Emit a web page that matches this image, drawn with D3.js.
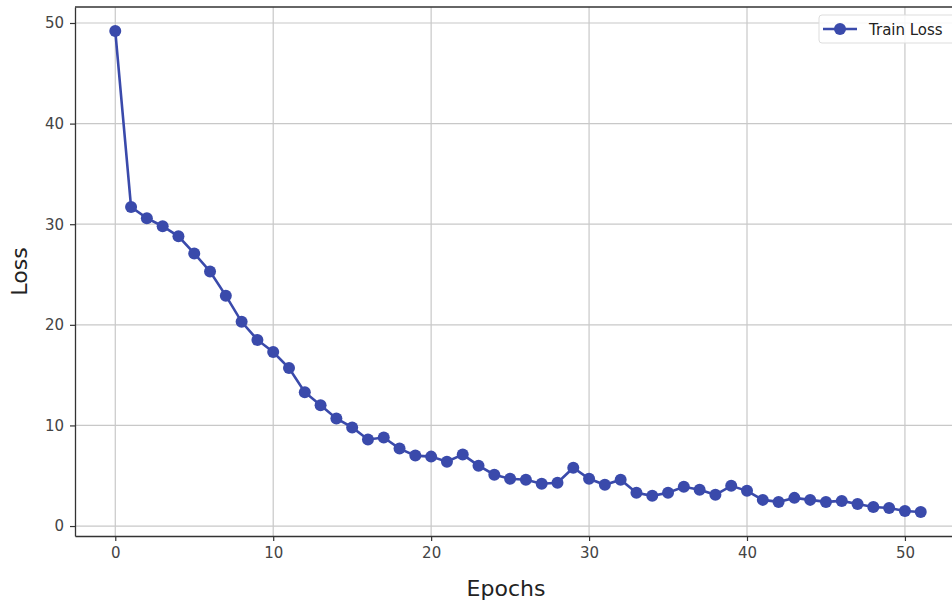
<!DOCTYPE html>
<html>
<head>
<meta charset="utf-8">
<script src="https://cdn.jsdelivr.net/npm/d3@7"></script>
<style>
  body { margin: 0; background: #fff; }
  svg { display: block; font-family: "DejaVu Sans", sans-serif; }
</style>
</head>
<body>
<div id="chart"></div>
<script>
// train loss per epoch
const epochs = d3.range(0, 52);
const trainLoss = [
  49.2, 31.7, 30.6, 29.8, 28.8, 27.1, 25.3, 22.9, 20.3, 18.5,
  17.3, 15.7, 13.3, 12.0, 10.7, 9.8, 8.6, 8.8, 7.7, 7.0,
  6.9, 6.4, 7.1, 6.0, 5.1, 4.7, 4.6, 4.2, 4.3, 5.8,
  4.7, 4.1, 4.6, 3.3, 3.0, 3.3, 3.9, 3.6, 3.1, 4.0,
  3.5, 2.6, 2.4, 2.8, 2.6, 2.4, 2.5, 2.2, 1.9, 1.8,
  1.5, 1.4
];
const xTicks = [0, 10, 20, 30, 40, 50];
const yTicks = [0, 10, 20, 30, 40, 50];

const width = 952, height = 603;
const margin = { top: 7, right: -9, bottom: 67, left: 75 };
const lineColor = '#3a4aab';

const svg = d3.select('#chart').append('svg')
  .attr('width', width)
  .attr('height', height);

const x = d3.scaleLinear()
  .domain([-2.55, 53.55])
  .range([margin.left, width - margin.right]);

const y = d3.scaleLinear()
  .domain([-0.99, 51.59])
  .range([height - margin.bottom, margin.top]);

// grid
svg.append('g')
  .selectAll('line.vgrid')
  .data(xTicks)
  .enter().append('line')
  .attr('x1', d => x(d)).attr('x2', d => x(d))
  .attr('y1', margin.top).attr('y2', height - margin.bottom)
  .style('stroke', '#c8c8c8')
  .style('stroke-width', 1.2);

svg.append('g')
  .selectAll('line.hgrid')
  .data(yTicks)
  .enter().append('line')
  .attr('x1', margin.left).attr('x2', width - margin.right)
  .attr('y1', d => y(d)).attr('y2', d => y(d))
  .style('stroke', '#c8c8c8')
  .style('stroke-width', 1.2);

// axes
const xAxis = svg.append('g')
  .attr('transform', `translate(0, ${height - margin.bottom})`)
  .call(d3.axisBottom(x).tickValues(xTicks).tickSize(5).tickPadding(6).tickSizeOuter(0));

const yAxis = svg.append('g')
  .attr('transform', `translate(${margin.left}, 0)`)
  .call(d3.axisLeft(y).tickValues(yTicks).tickSize(5).tickPadding(6).tickSizeOuter(0));

[xAxis, yAxis].forEach(a => {
  a.select('.domain').style('stroke', '#333').style('stroke-width', 1.3);
  a.selectAll('.tick line').style('stroke', '#333').style('stroke-width', 1.2);
  a.selectAll('.tick text')
    .style('font-family', '"DejaVu Sans", sans-serif')
    .style('font-size', '15px')
    .style('fill', '#444');
});

// top frame
svg.append('line')
  .attr('x1', margin.left).attr('x2', width)
  .attr('y1', margin.top).attr('y2', margin.top)
  .style('stroke', '#333').style('stroke-width', 1.3);

// axis labels
svg.append('text')
  .attr('x', 506)
  .attr('y', 596)
  .attr('text-anchor', 'middle')
  .style('font-size', '22px')
  .style('fill', '#222')
  .text('Epochs');

svg.append('text')
  .attr('transform', `translate(27, ${y(25.3)}) rotate(-90)`)
  .attr('text-anchor', 'middle')
  .style('font-size', '22px')
  .style('fill', '#222')
  .text('Loss');

// series
const line = d3.line()
  .x((d, i) => x(epochs[i]))
  .y(d => y(d));

svg.append('path')
  .datum(trainLoss)
  .attr('d', line)
  .style('fill', 'none')
  .style('stroke', lineColor)
  .style('stroke-width', 2.6);

svg.append('g')
  .selectAll('circle')
  .data(trainLoss)
  .enter().append('circle')
  .attr('cx', (d, i) => x(epochs[i]))
  .attr('cy', d => y(d))
  .attr('r', 6)
  .style('fill', lineColor);

// legend
const legend = svg.append('g').attr('transform', 'translate(819, 15)');
legend.append('rect')
  .attr('width', 150).attr('height', 28).attr('rx', 3)
  .style('fill', 'rgba(255,255,255,0.85)')
  .style('stroke', '#ddd');
legend.append('line')
  .attr('x1', 4).attr('x2', 38).attr('y1', 14).attr('y2', 14)
  .style('stroke', lineColor).style('stroke-width', 2.6);
legend.append('circle')
  .attr('cx', 21).attr('cy', 14).attr('r', 6)
  .style('fill', lineColor);
legend.append('text')
  .attr('x', 50).attr('y', 19.5)
  .style('font-size', '15px')
  .style('fill', '#222')
  .text('Train Loss');
</script>
</body>
</html>
